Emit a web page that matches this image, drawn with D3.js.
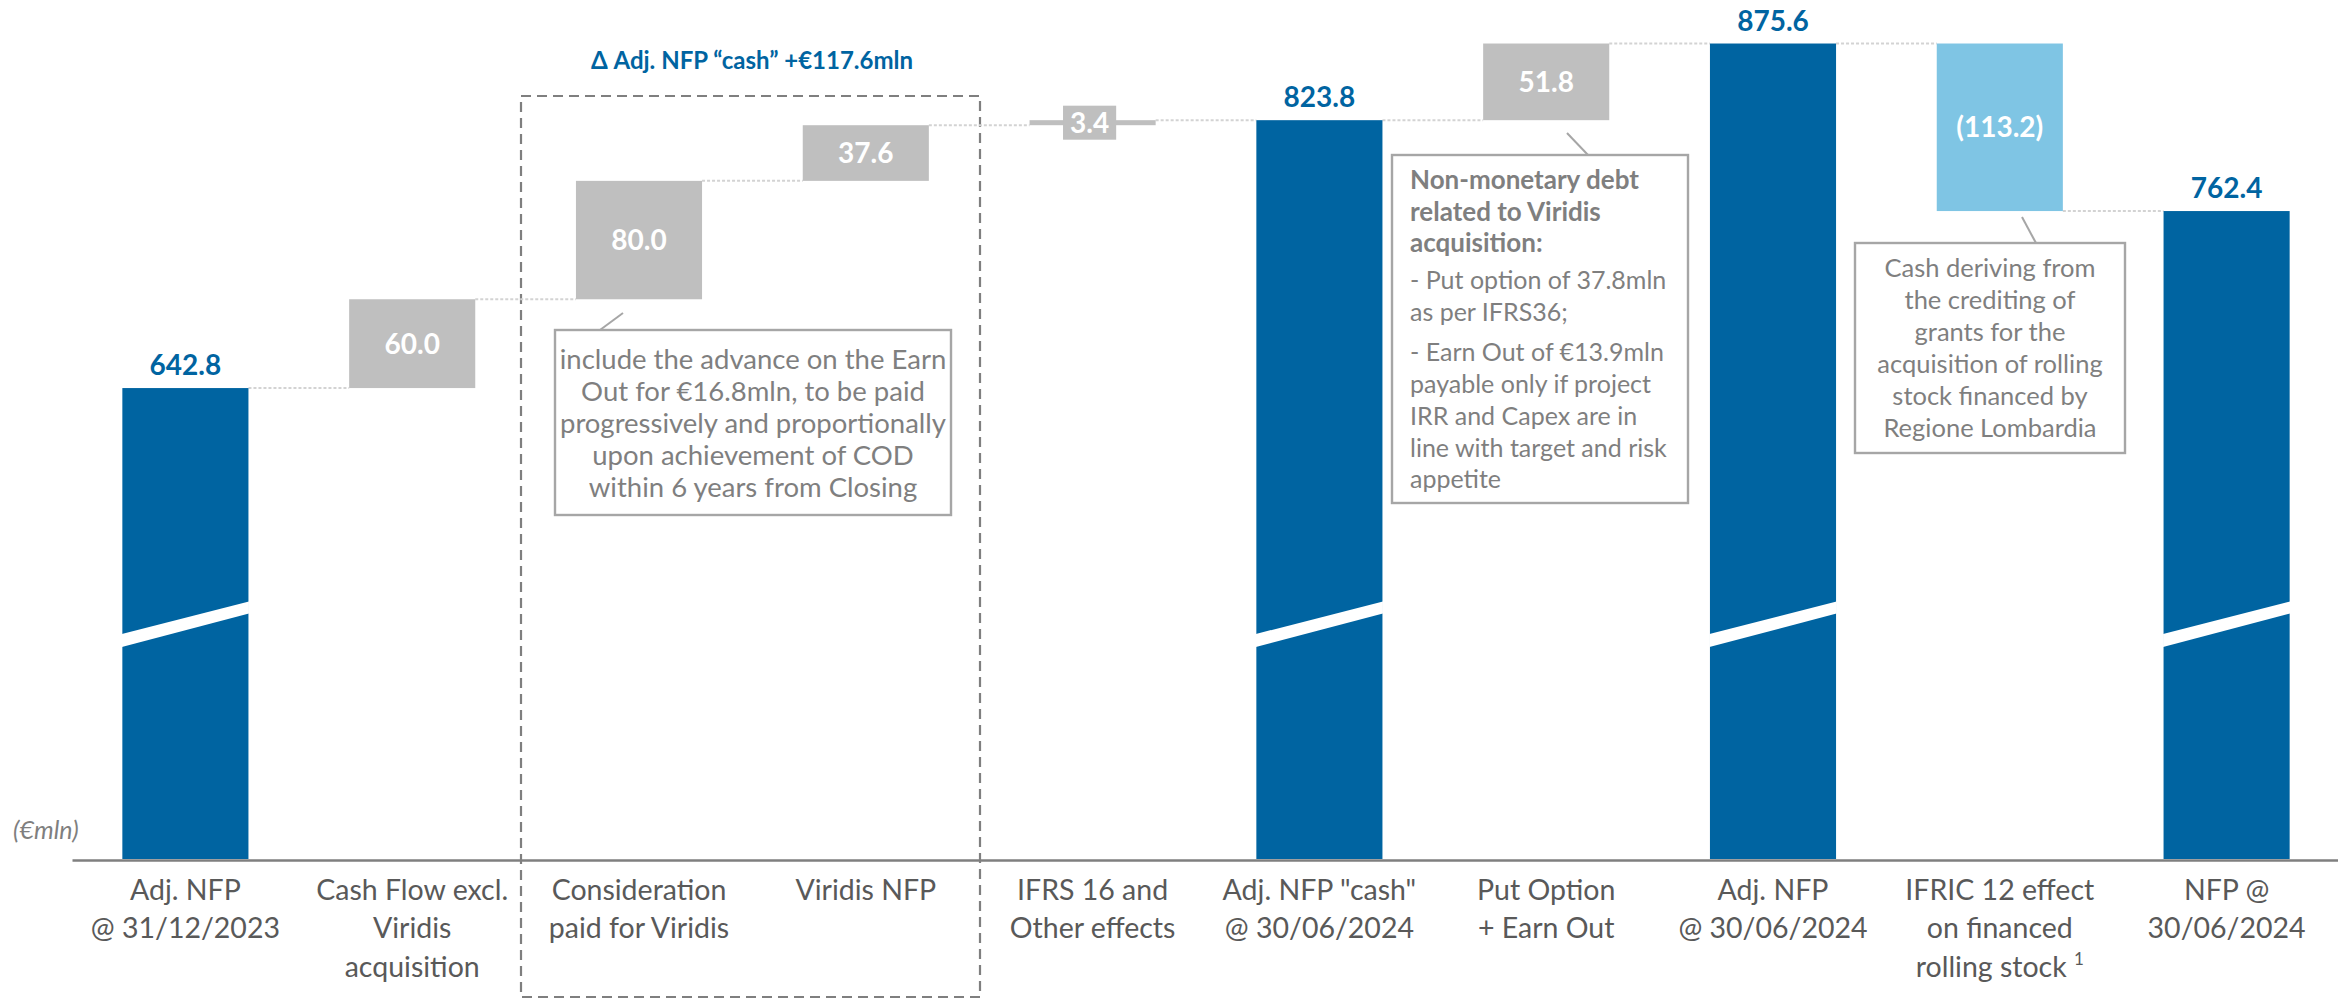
<!DOCTYPE html>
<html><head><meta charset="utf-8">
<script src="https://cdn.jsdelivr.net/npm/d3@7"></script>
<style>
body{margin:0;background:#fff;}
svg{display:block;}
text{font-family:Lato,"Open Sans",sans-serif;}
</style>
</head><body>
<svg id="chart" width="2338" height="1002"></svg>
<script>
// ---- data ----
const categories = [
  "Adj. NFP\n@ 31/12/2023",
  "Cash Flow excl.\nViridis\nacquisition",
  "Consideration\npaid for Viridis",
  "Viridis NFP",
  "IFRS 16 and\nOther effects",
  "Adj. NFP \"cash\"\n@ 30/06/2024",
  "Put Option\n+ Earn Out",
  "Adj. NFP\n@ 30/06/2024",
  "IFRIC 12 effect\non financed\nrolling stock",
  "NFP @\n30/06/2024"
];
const footnoteMarks = ["", "", "", "", "", "", "", "", "1", ""];
const values = [642.8, 60.0, 80.0, 37.6, 3.4, 823.8, 51.8, 875.6, -113.2, 762.4];
const kinds = ["total", "delta", "delta", "delta", "delta", "total", "delta", "total", "delta", "total"];
const unitLabel = "(€mln)";
const groupTitle = "Δ Adj. NFP “cash” +€117.6mln";
const note1 = ["include the advance on the Earn", "Out for €16.8mln, to be paid", "progressively and proportionally", "upon achievement of COD", "within 6 years from Closing"];
const note2Bold = ["Non-monetary debt", "related to Viridis", "acquisition:"];
const note2 = [["- Put option of 37.8mln", "as per IFRS36;"], ["- Earn Out of €13.9mln", "payable only if project", "IRR and Capex are in", "line with target and risk", "appetite"]];
const note3 = ["Cash deriving from", "the crediting of", "grants for the", "acquisition of rolling", "stock financed by", "Regione Lombardia"];

// ---- styles ----
const C = {
  blue: "#0064A1", gray: "#BFBFBF", light: "#7FC5E4",
  axis: "#7F7F7F", cat: "#595959", note: "#7F7F7F", box: "#A6A6A6", conn: "#D3D3D3"
};

// ---- computed bars ----
const svg = d3.select("#chart");
const x = d3.scaleBand().domain(d3.range(values.length)).range([72, 2340]).paddingInner(0.444).paddingOuter(0.222);
const y = d3.scaleLinear().domain([324.6, 905]).range([859, 0]);
const base = y.domain()[0];

let run = 0;
const bars = values.map((v, i) => {
  let a, b;
  if (kinds[i] === "total") { a = base; b = v; run = v; }
  else { a = run; b = run + v; run = b; }
  return { i, v, kind: kinds[i], lo: Math.min(a, b), hi: Math.max(a, b), end: run };
});

// dashed group box (behind)
svg.append("rect")
  .attr("x", 521).attr("y", 96).attr("width", 459).attr("height", 901)
  .attr("fill", "none").attr("stroke", C.axis).attr("stroke-width", 2.2)
  .attr("stroke-dasharray", "10,6");

svg.append("text").attr("x", 752).attr("y", 69).attr("text-anchor", "middle")
  .attr("font-size", 24).attr("font-weight", 700).attr("fill", C.blue).text(groupTitle);

// connectors
const conns = bars.slice(0, -1).map(d => ({ x1: x(d.i) + x.bandwidth(), x2: x(d.i + 1), yv: d.end }));
svg.append("g").selectAll("line").data(conns).join("line")
  .attr("x1", d => d.x1).attr("x2", d => d.x2)
  .attr("y1", d => y(d.yv)).attr("y2", d => y(d.yv))
  .attr("stroke", C.conn).attr("stroke-width", 2).attr("stroke-dasharray", "3,2");

// bars
const color = d => d.kind === "total" ? C.blue : (d.v < 0 ? C.light : C.gray);
svg.append("g").selectAll("rect").data(bars).join("rect")
  .attr("x", d => x(d.i)).attr("width", x.bandwidth())
  .attr("y", d => y(d.hi)).attr("height", d => y(d.lo) - y(d.hi))
  .attr("fill", color);

// axis break marks on total bars
const brk = svg.append("g");
bars.filter(d => d.kind === "total").forEach(d => {
  const x0 = x(d.i) - 0.5, x1 = x(d.i) + x.bandwidth() + 0.5;
  brk.append("polygon")
    .attr("points", [[x0, 634], [x1, 601.5], [x1, 613.5], [x0, 647]].map(p => p.join(",")).join(" "))
    .attr("fill", "#fff");
});

// axis
const axis = svg.append("g").attr("transform", "translate(0,860)")
  .call(d3.axisBottom(x).tickSize(0).tickFormat(""));
axis.select(".domain").attr("stroke", C.axis).attr("stroke-width", 2.4);

// category labels
const cat = svg.append("g");
categories.forEach((c, i) => {
  const lines = c.split("\n");
  lines.forEach((ln, j) => {
    const t = cat.append("text").attr("x", x(i) + x.bandwidth() / 2).attr("y", 900 + j * 38.3)
      .attr("text-anchor", "middle").attr("font-size", 28.5).attr("fill", C.cat).text(ln);
    if (j === lines.length - 1 && footnoteMarks[i]) {
      t.append("tspan").text(" ");
      t.append("tspan").attr("font-size", 17).attr("dy", -12).text(footnoteMarks[i]);
    }
  });
});

// unit label
svg.append("text").attr("x", 13).attr("y", 839).attr("font-size", 25).attr("font-style", "italic")
  .attr("fill", C.note).text(unitLabel);

// value labels
const fmt = v => v < 0 ? "(" + d3.format(".1f")(-v) + ")" : d3.format(".1f")(v);
const lab = svg.append("g");
bars.forEach(d => {
  const cx = x(d.i) + x.bandwidth() / 2;
  if (d.kind === "total") {
    lab.append("text").attr("x", cx).attr("y", y(d.hi) - 13).attr("text-anchor", "middle")
      .attr("font-size", 28).attr("font-weight", 700).attr("fill", C.blue).text(fmt(d.v));
  } else {
    const mid = (y(d.hi) + y(d.lo)) / 2;
    const h = y(d.lo) - y(d.hi);
    const t = lab.append("text").attr("x", cx).attr("y", mid + 10).attr("text-anchor", "middle")
      .attr("font-size", 28).attr("font-weight", 700).attr("fill", "#fff").text(fmt(d.v));
    if (h < 34) {
      const w = t.node().getComputedTextLength();
      t.attr("x", cx - 3);
      lab.insert("rect", () => t.node()).attr("x", cx - 3 - w / 2 - 7).attr("width", w + 14)
        .attr("y", mid - 17).attr("height", 34).attr("fill", color(d));
    }
  }
});

// annotation boxes
function box(x0, y0, x1, y1, lead) {
  svg.append("line").attr("x1", lead[0]).attr("y1", lead[1]).attr("x2", lead[2]).attr("y2", lead[3])
    .attr("stroke", C.box).attr("stroke-width", 2);
  svg.append("rect").attr("x", x0).attr("y", y0).attr("width", x1 - x0).attr("height", y1 - y0)
    .attr("fill", "#fff").attr("stroke", C.box).attr("stroke-width", 2.4);
}
box(555, 330, 951, 515, [600, 330, 623, 313]);
note1.forEach((t, j) => svg.append("text").attr("x", 753).attr("y", 369 + j * 32).attr("text-anchor", "middle")
  .attr("font-size", 27.5).attr("fill", C.note).text(t));

box(1392, 155, 1688, 503, [1588, 155, 1567, 133]);
note2Bold.forEach((t, j) => svg.append("text").attr("x", 1410).attr("y", 189 + j * 31.5)
  .attr("font-size", 26).attr("font-weight", 700).attr("fill", C.note).text(t));
const n2y = [[289, 321], [361, 393, 425, 457, 488]];
note2.forEach((para, p) => para.forEach((t, j) => svg.append("text").attr("x", 1410).attr("y", n2y[p][j])
  .attr("font-size", 25).attr("fill", C.note).text(t)));

box(1855, 243, 2125, 453, [2036, 243, 2022, 217]);
note3.forEach((t, j) => svg.append("text").attr("x", 1990).attr("y", 277 + j * 32).attr("text-anchor", "middle")
  .attr("font-size", 25.5).attr("fill", C.note).text(t));
</script>
</body></html>
